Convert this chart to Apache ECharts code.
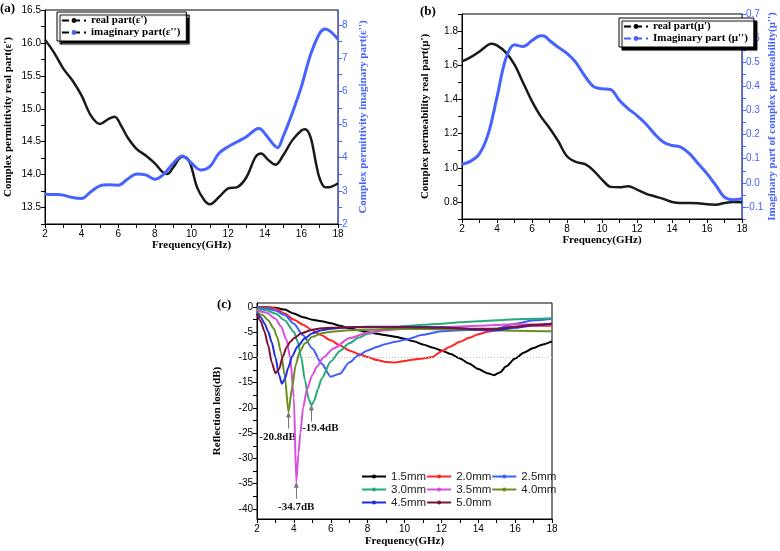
<!DOCTYPE html>
<html><head><meta charset="utf-8">
<script src="https://cdn.jsdelivr.net/npm/echarts@6/dist/echarts.min.js"></script>
<style>html,body{margin:0;padding:0;background:#fff}#c{width:780px;height:551px}</style>
</head><body><div id="c"></div>
<script>
// ---------- data: panel (a) ----------
const A_freqReal = [2,2.5,3,3.5,4,4.5,5,5.5,5.8,6.2,6.5,7,7.5,8,8.5,8.7,9,9.5,9.8,10,10.3,10.7,11,11.5,12,12.5,13,13.5,13.8,14.2,14.6,15,15.5,16,16.2,16.5,16.8,17,17.3,17.5,18];
const A_real = [16.05,15.85,15.61,15.43,15.2,14.9,14.77,14.85,14.88,14.72,14.57,14.39,14.29,14.17,14.02,14.01,14.11,14.27,14.24,14.11,13.81,13.61,13.55,13.66,13.79,13.81,13.96,14.27,14.32,14.22,14.15,14.29,14.52,14.67,14.69,14.57,14.17,13.94,13.81,13.81,13.87];
const A_freqImag = [2,2.5,3,3.5,4,4.5,5,5.5,6,6.5,7,7.5,8,8.5,9,9.5,10,10.5,11,11.5,12,12.5,13,13.5,13.7,14,14.5,14.7,15,15.5,16,16.5,17,17.3,17.6,18];
const A_imag = [2.90,2.89,2.87,2.80,2.77,2.97,3.15,3.18,3.17,3.35,3.51,3.48,3.35,3.51,3.83,4.05,3.83,3.63,3.73,4.13,4.33,4.48,4.63,4.85,4.88,4.73,4.38,4.30,4.63,5.34,6.14,7.10,7.75,7.88,7.80,7.57];
// ---------- data: panel (b) ----------
const B_freqReal = [2,2.5,3,3.5,3.7,4,4.5,5,5.5,6,6.5,7,7.5,8,8.5,9,9.5,10,10.5,11,11.5,12,12.5,13,13.5,14,14.5,15,15.5,16,16.5,17,17.5,18];
const B_real = [1.623,1.648,1.681,1.72,1.726,1.716,1.675,1.603,1.496,1.389,1.301,1.233,1.155,1.067,1.034,1.022,0.985,0.931,0.888,0.886,0.892,0.872,0.849,0.833,0.818,0.80,0.794,0.794,0.792,0.786,0.784,0.794,0.80,0.798];
const B_freqImag = [2,2.5,3,3.5,4,4.5,5,5.5,6,6.5,6.7,7,7.5,8,8.5,9,9.5,10,10.5,11,11.5,12,12.5,13,13.5,14,14.5,15,15.5,16,16.5,17,17.5,18];
const B_imag = [0.077,0.090,0.121,0.203,0.355,0.514,0.572,0.565,0.59,0.61,0.609,0.59,0.562,0.537,0.50,0.445,0.40,0.39,0.386,0.341,0.307,0.279,0.245,0.203,0.169,0.155,0.148,0.121,0.079,0.038,-0.010,-0.059,-0.07,-0.066];
// ---------- data: panel (c) ----------
const C_names = ['1.5mm','2.0mm','2.5mm','3.0mm','3.5mm','4.0mm','4.5mm','5.0mm'];
const C_f15 = [2,2.5,3,3.5,4,4.5,5,5.5,6,6.5,7,7.5,8,8.5,9,9.5,10,10.5,11,11.5,12,12.5,13,13.5,14,14.5,14.85,15.2,15.5,16,16.5,17,17.5,18];
const C_rl15 = [0,-0.05,-0.15,-0.5,-1.3,-2.0,-2.5,-2.8,-3.2,-3.7,-4.2,-4.6,-5.0,-5.3,-5.6,-5.9,-6.3,-6.8,-7.4,-8.0,-8.6,-9.3,-10.2,-11.2,-12.3,-13.1,-13.5,-12.9,-11.8,-10.2,-9.0,-8.1,-7.4,-6.8];
const C_f20 = [2,2.5,3,3.5,4,4.5,5,5.5,6,6.5,7,7.5,8,8.5,9,9.5,10,10.5,11,11.5,12,12.5,13,13.5,14,14.5,15,15.5,16,16.5,17,17.5,18];
const C_rl20 = [0,-0.1,-0.3,-1.3,-2.5,-3.5,-4.6,-5.6,-6.6,-7.6,-8.6,-9.3,-9.9,-10.5,-10.9,-11.0,-10.7,-10.4,-10.2,-9.9,-8.8,-7.8,-6.9,-6.1,-5.4,-4.9,-4.6,-4.2,-3.9,-3.8,-3.7,-3.7,-3.7];
const C_f25 = [2,2.5,3,3.5,4,4.5,5,5.5,6,6.5,7,7.5,8,8.5,9,9.5,10,11,12,13,14,15,16,17,18];
const C_rl25 = [-0.1,-0.3,-0.7,-1.6,-3.3,-5.6,-8.2,-11.2,-13.8,-13.2,-11.0,-9.6,-8.6,-7.9,-7.3,-6.9,-6.5,-5.5,-4.8,-4.6,-4.5,-4.3,-3.3,-2.6,-2.3];
const C_f30 = [2,2.5,3,3.5,4,4.2,4.4,4.6,4.8,4.95,5.1,5.3,5.5,6,6.5,7,7.5,8,9,10,11,12,13,14,15,16,17,18];
const C_rl30 = [-0.4,-0.6,-1.3,-2.6,-4.9,-6.8,-10,-14.5,-18.2,-19.4,-18.6,-16.3,-14.2,-10.8,-8.7,-7.2,-6.1,-5.3,-4.3,-3.8,-3.5,-3.3,-3.0,-2.8,-2.6,-2.4,-2.3,-2.2];
const C_f35 = [2,2.5,3,3.3,3.6,3.8,4.0,4.13,4.25,4.35,4.5,4.7,5.0,5.25,5.6,6.15,7,8,9,10,12,14,16,18];
const C_rl35 = [-0.7,-1.1,-2.3,-3.8,-6.5,-10,-18,-34.7,-29,-25,-20,-16.4,-13.5,-11.8,-10,-8.2,-6.2,-5.1,-4.6,-4.3,-4.0,-3.7,-3.4,-3.5];
const C_f40 = [2,2.3,2.6,2.9,3.1,3.3,3.5,3.71,3.9,4.1,4.3,4.6,5,5.5,6,7,8,10,12,14,16,18];
const C_rl40 = [-1.0,-1.6,-2.6,-4.2,-6,-9,-13.5,-20.8,-16,-11.5,-9,-7.2,-5.9,-5.2,-4.9,-4.6,-4.5,-4.3,-4.4,-4.5,-4.7,-4.8];
const C_f45 = [2,2.2,2.4,2.6,2.8,3.0,3.2,3.35,3.5,3.7,3.9,4.2,4.6,5,5.5,6,7,8,10,12,14,15,16,17,18];
const C_rl45 = [-1.2,-2.0,-3.2,-4.8,-7,-10,-13.5,-15.2,-14.3,-12,-9.8,-7.8,-6.2,-5.2,-4.6,-4.3,-4.0,-3.9,-3.9,-4.0,-4.5,-4.6,-4.1,-3.6,-3.3];
const C_f50 = [2,2.2,2.4,2.6,2.8,3.0,3.2,3.4,3.6,3.8,4.0,4.4,5,5.5,6,7,8,10,12,14,15,16,17,18];
const C_rl50 = [-1.4,-2.8,-4.8,-7.5,-11,-13.1,-12.3,-9.8,-8.0,-6.9,-6.2,-5.2,-4.5,-4.2,-4.1,-4.0,-4.0,-4.0,-4.1,-4.3,-4.3,-3.9,-3.5,-3.3];
const C_peakSeries = ['4.0mm','3.0mm','3.5mm'];
const C_peakFreq = [3.71,4.95,4.13];
const C_peakRL = [-20.8,-19.4,-34.7];
const C_refLine = -10;
// ---------- ticks ----------
const X_labels = [2,4,6,8,10,12,14,16,18];
const X_ticks = [2,3,4,5,6,7,8,9,10,11,12,13,14,15,16,17,18];
const A_leftLabels = [13.5,14.0,14.5,15.0,15.5,16.0,16.5];
const A_leftTicks = [13.25,13.5,13.75,14.0,14.25,14.5,14.75,15.0,15.25,15.5,15.75,16.0,16.25,16.5];
const A_rightLabels = [2,3,4,5,6,7,8];
const A_rightTicks = [2,2.5,3,3.5,4,4.5,5,5.5,6,6.5,7,7.5,8];
const B_leftLabels = [0.8,1.0,1.2,1.4,1.6,1.8];
const B_leftTicks = [0.7,0.8,0.9,1.0,1.1,1.2,1.3,1.4,1.5,1.6,1.7,1.8,1.9];
const B_rightLabels = [-0.1,0.0,0.1,0.2,0.3,0.4,0.5,0.6,0.7];
const B_rightTicks = [-0.15,-0.1,-0.05,0.0,0.05,0.1,0.15,0.2,0.25,0.3,0.35,0.4,0.45,0.5,0.55,0.6,0.65,0.7];
const C_yLabels = [-40,-35,-30,-25,-20,-15,-10,-5,0];
const C_yTicks = [-40,-37.5,-35,-32.5,-30,-27.5,-25,-22.5,-20,-17.5,-15,-12.5,-10,-7.5,-5,-2.5,0];

const SERIF = "'Liberation Serif','DejaVu Serif',serif";
const SANS = "'Liberation Sans','DejaVu Sans',sans-serif";
const BLUE = '#4763ff';
const C_colors = ['#000000','#ff2626','#3d5eff','#25aa78','#d84fdc','#6b8e22','#1c2ee0','#7a1236'];
const C_f = [C_f15,C_f20,C_f25,C_f30,C_f35,C_f40,C_f45,C_f50];
const C_rl = [C_rl15,C_rl20,C_rl25,C_rl30,C_rl35,C_rl40,C_rl45,C_rl50];

const pairs = (xs, ys) => xs.map((x, i) => [x, ys[i]]);

function xAx(g, gap) {
  return {
    type: 'value', gridIndex: g, min: 2, max: 18,
    axisLine: {show: true, onZero: false, lineStyle: {color: '#000', width: 1}},
    axisTick: {show: true, customValues: X_ticks, length: 4, lineStyle: {color: '#000'}},
    axisLabel: {customValues: X_labels, fontSize: 10, color: '#000', fontFamily: SANS, margin: 5},
    splitLine: {show: false},
    name: 'Frequency(GHz)', nameLocation: 'middle', nameGap: gap,
    nameTextStyle: {fontFamily: SERIF, fontWeight: 'bold', fontSize: 11, color: '#000'}
  };
}
function yAx(g, min, max, labels, ticks, fmt, name, gap, pos, color) {
  return {
    type: 'value', gridIndex: g, min: min, max: max, position: pos,
    axisLine: {show: true, onZero: false, lineStyle: {color: color, width: 1}},
    axisTick: {show: true, customValues: ticks, length: 4, lineStyle: {color: color}},
    axisLabel: {customValues: labels, fontSize: 10, color: color, fontFamily: SANS, margin: 4, formatter: fmt},
    splitLine: {show: false},
    name: name, nameLocation: 'middle', nameGap: gap, nameRotate: 90,
    nameTextStyle: {fontFamily: SERIF, fontWeight: 'bold', fontSize: 11, color: color}
  };
}
const f1 = v => v.toFixed(1);
const f0 = v => String(Math.round(v));

const series = [
  {name: "real part(ε')", type: 'line', xAxisIndex: 0, yAxisIndex: 0, data: pairs(A_freqReal, A_real),
   smooth: 0.35, symbol: 'circle', symbolSize: 3, showSymbol: false, lineStyle: {width: 2.5, color: '#1a1a1a'}, itemStyle: {color: '#1a1a1a'}},
  {name: "imaginary part(ε'')", type: 'line', xAxisIndex: 0, yAxisIndex: 1, data: pairs(A_freqImag, A_imag),
   smooth: 0.35, symbol: 'circle', symbolSize: 3, showSymbol: false, lineStyle: {width: 3, color: BLUE}, itemStyle: {color: BLUE}},
  {name: "real part(μ')", type: 'line', xAxisIndex: 1, yAxisIndex: 2, data: pairs(B_freqReal, B_real),
   smooth: 0.35, symbol: 'circle', symbolSize: 3, showSymbol: false, lineStyle: {width: 2.5, color: '#1a1a1a'}, itemStyle: {color: '#1a1a1a'}},
  {name: "Imaginary part (μ'')", type: 'line', xAxisIndex: 1, yAxisIndex: 3, data: pairs(B_freqImag, B_imag),
   smooth: 0.35, symbol: 'circle', symbolSize: 3, showSymbol: false, lineStyle: {width: 3, color: BLUE}, itemStyle: {color: BLUE}}
];
const peakOffsets = [[-11, 0], [9, -2], [0, 0]];
C_names.forEach((nm, i) => {
  const s = {name: nm, type: 'line', xAxisIndex: 2, yAxisIndex: 4, data: pairs(C_f[i], C_rl[i]),
    smooth: 0.25, smoothMonotone: 'x', symbol: 'circle', symbolSize: 3, showSymbol: false, z: 2 + i,
    lineStyle: {width: 2, color: C_colors[i]}, itemStyle: {color: C_colors[i]}};
  const mlData = [];
  if (i === 0) {
    mlData.push({yAxis: C_refLine, lineStyle: {color: '#b8c0d0', type: [1, 2], width: 1}, label: {show: false}});
  }
  C_peakSeries.forEach((ps, k) => {
    if (ps === nm) {
      mlData.push([
        {coord: [C_peakFreq[k], C_peakRL[k] - 3.3], symbol: 'none',
         label: {show: true, position: 'start', formatter: C_peakRL[k].toFixed(1) + 'dB', offset: peakOffsets[k],
                 fontFamily: SERIF, fontWeight: 'bold', fontSize: 11, color: '#111', distance: 3}},
        {coord: [C_peakFreq[k], C_peakRL[k] - 0.5], symbol: 'triangle', symbolSize: [5, 6]}
      ]);
    }
  });
  if (mlData.length) {
    s.markLine = {silent: true, animation: false, symbol: ['none', 'none'], lineStyle: {color: '#777', width: 1, type: 'solid'},
      label: {show: false}, data: mlData};
  }
  series.push(s);
});

const legendCommon = {
  orient: 'vertical', itemGap: 1, itemWidth: 24, itemHeight: 6, padding: [3, 6, 3, 4],
  backgroundColor: '#fff', borderColor: '#000', borderWidth: 1,
  shadowColor: '#000', shadowOffsetX: 3, shadowOffsetY: 3, shadowBlur: 1,
  textStyle: {fontFamily: SERIF, fontWeight: 'bold', fontSize: 11, color: '#000'}
};

const option = {
  animation: false,
  backgroundColor: '#fff',
  title: [
    {text: '(a)', left: 0, top: 2, textStyle: {fontFamily: SERIF, fontWeight: 'bold', fontSize: 13, color: '#000'}, padding: 0},
    {text: '(b)', left: 420, top: 5, textStyle: {fontFamily: SERIF, fontWeight: 'bold', fontSize: 13, color: '#000'}, padding: 0},
    {text: '(c)', left: 217, top: 298, textStyle: {fontFamily: SERIF, fontWeight: 'bold', fontSize: 13, color: '#000'}, padding: 0}
  ],
  grid: [
    {left: 45, top: 10, width: 293, height: 214, show: true, borderColor: '#000', borderWidth: 1},
    {left: 462, top: 14, width: 280, height: 205, show: true, borderColor: '#000', borderWidth: 1},
    {left: 257, top: 303, width: 295, height: 216, show: true, borderColor: '#000', borderWidth: 1}
  ],
  xAxis: [xAx(0, 15), xAx(1, 16), xAx(2, 17)],
  yAxis: [
    yAx(0, 13.25, 16.5, A_leftLabels, A_leftTicks, f1, "Complex permittivity real part(ε')", 31, 'left', '#000'),
    yAx(0, 2, 8.45, A_rightLabels, A_rightTicks, f0, "Complex permittivity imaginary part(ε'')", 20, 'right', BLUE),
    yAx(1, 0.7, 1.9, B_leftLabels, B_leftTicks, f1, "Complex permeability real part(μ')", 31, 'left', '#000'),
    yAx(1, -0.15, 0.7, B_rightLabels, B_rightTicks, f1, "Imaginary part of complex permeability(μ'')", 24, 'right', BLUE),
    yAx(2, -42, 0.8, C_yLabels, C_yTicks, f0, 'Reflection loss(dB)', 34, 'left', '#000')
  ],
  legend: [
    Object.assign({}, legendCommon, {left: 57, top: 12, data: [
      {name: "real part(ε')", lineStyle: {color: '#000', type: [7, 4]}, itemStyle: {color: '#000'}},
      {name: "imaginary part(ε'')", lineStyle: {color: '#000', type: [7, 4]}, itemStyle: {color: BLUE}}
    ]}),
    Object.assign({}, legendCommon, {left: 619, top: 18, data: [
      {name: "real part(μ')", lineStyle: {color: '#000', type: [7, 4]}, itemStyle: {color: '#000'}},
      {name: "Imaginary part (μ'')", lineStyle: {color: BLUE, type: [7, 4]}, itemStyle: {color: BLUE}}
    ]}),
    {orient: 'horizontal', left: 361, top: 470, width: 240, itemGap: 0, itemWidth: 24, itemHeight: 5, padding: 0,
     textStyle: {fontFamily: SANS, fontSize: 11.5, color: '#222', lineHeight: 13},
     data: C_names}
  ],
  series: series
};

const chart = echarts.init(document.getElementById('c'), null, {renderer: 'canvas'});
chart.setOption(option);
</script></body></html>
